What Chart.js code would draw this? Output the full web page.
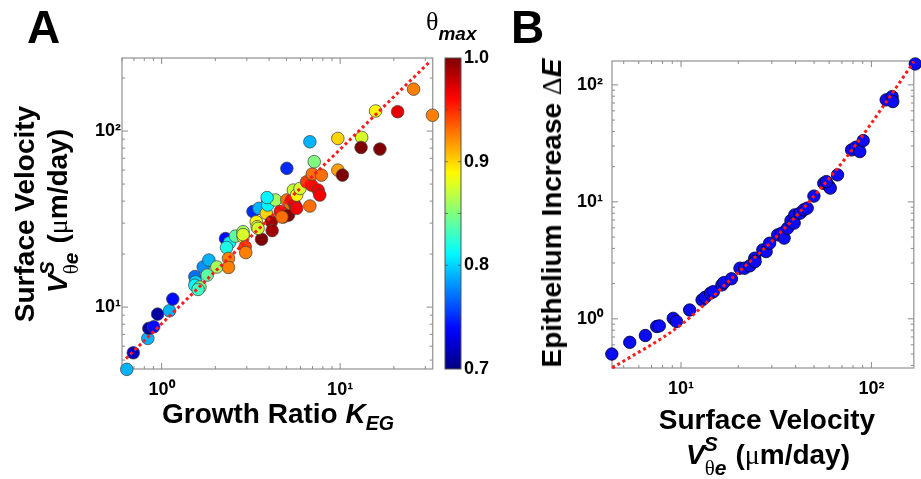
<!DOCTYPE html>
<html>
<head>
<meta charset="utf-8">
<script src="https://cdn.jsdelivr.net/npm/chart.js@4.4.1/dist/chart.umd.min.js"></script>
<style>
  html, body { margin:0; padding:0; background:#fff; }
  body { width:921px; height:479px; position:relative; overflow:hidden;
         font-family:"Liberation Sans", Arial, sans-serif; font-weight:bold; color:#000; }
  canvas { position:absolute; top:0; }
  .lbl { position:absolute; white-space:nowrap; line-height:1; font-size:28px; }
  .ctr { transform: translateX(-50%); }
  .rot { transform: translate(-50%,-50%) rotate(-90deg); }
  .sym { font-family:"Liberation Serif", "DejaVu Serif", serif; font-weight:normal; }
  .ss  { display:inline-block; position:relative; width:0.82em; height:0; }
  .ss .sp { position:absolute; left:-0.05em; bottom:0.5em; font-size:0.75em; font-style:italic; line-height:1; }
  .ss .sb { position:absolute; left:0; top:-0.32em; font-size:0.75em; line-height:1; }
  .sub { font-size:0.7em; font-style:italic; position:relative; top:0.35em; }
  .panel { position:absolute; font-size:46px; line-height:1; }
</style>
</head>
<body>
<canvas id="chartA" width="440" height="479" style="left:0"></canvas>
<canvas id="chartCb" width="80" height="479" style="left:430px"></canvas>
<canvas id="chartB" width="421" height="479" style="left:500px"></canvas>

<div class="panel" style="left:27px; top:4px;">A</div>
<div class="panel" style="left:511px; top:4px;">B</div>

<!-- panel A titles -->
<div class="lbl rot" style="left:25px; top:214px;">Surface Velocity</div>
<div class="lbl rot" style="left:58px; top:211px;"><i>V</i><span class="ss"><span class="sp">S</span><span class="sb"><span class="sym">θ</span><i>e</i></span></span> (<span class="sym">μ</span>m/day)</div>
<div class="lbl ctr" style="left:278px; top:400px;">Growth Ratio <i>K</i><span class="sub">EG</span></div>
<div class="lbl" style="left:426px; top:8px; font-size:26px;"><span class="sym">θ</span><span style="font-size:19px; font-style:italic; position:relative; top:10px;">max</span></div>

<!-- panel B titles -->
<div class="lbl rot" style="left:552px; top:213px;">Epithelium Increase <span class="sym">Δ</span><i>E</i></div>
<div class="lbl ctr" style="left:767px; top:406px;">Surface Velocity</div>
<div class="lbl ctr" style="left:768px; top:441px;"><i>V</i><span class="ss"><span class="sp">S</span><span class="sb"><span class="sym">θ</span><i>e</i></span></span> (<span class="sym">μ</span>m/day)</div>

<script>
// ----- panel A data: growth ratio, surface velocity, theta max -----
const kEG = [0.638, 0.694, 0.837, 0.848, 0.903, 0.95, 1.107, 1.155, 1.535, 1.55,
  1.535, 1.64, 1.71, 1.84, 1.80, 2.04, 2.28, 2.40, 2.31, 2.37,
  2.37, 2.59, 2.86, 2.86, 2.94, 2.96, 3.25, 3.51, 3.39, 3.43,
  3.63, 3.86, 3.93, 3.93, 4.34, 4.12, 4.16, 4.62, 4.82, 5.14,
  5.03, 5.25, 5.36, 5.58, 5.71, 5.47, 5.71, 5.96, 6.49, 6.92,
  7.53, 7.69, 6.77, 6.98, 7.85, 7.16, 6.77, 5.03, 9.71, 9.71,
  10.3, 13.2, 13.1, 16.7, 15.8, 21.0, 25.8, 32.9, 3.47, 2.86,
  3.9, 4.72, 1.6];
const vSurfA = [4.43, 5.50, 6.64, 7.57, 7.73, 9.12, 9.53, 11.1, 14.9, 13.9,
  13.3, 13.0, 16.9, 18.5, 15.2, 16.9, 24.5, 23.2, 21.8, 18.9,
  16.8, 25.3, 26.8, 25.1, 22.0, 20.4, 34.9, 36.4, 30.5, 28.6,
  24.3, 34.1, 40.2, 38.0, 40.6, 30.5, 27.2, 34.9, 32.5, 33.3,
  40.6, 38.8, 40.6, 38.0, 36.4, 46.2, 43.3, 47.2, 51.5, 49.3,
  46.2, 43.3, 37.5, 57.0, 56.2, 67.0, 86.9, 61.4, 90.8, 60.0,
  56.2, 92.0, 80.7, 79.0, 130, 128.8, 173, 123, 28.0, 25.8,
  41.9, 32.5, 12.6];
const thetaMax = [0.79, 0.72, 0.79, 0.71, 0.74, 0.71, 0.79, 0.74, 0.77, 0.80,
  0.81, 0.85, 0.78, 0.79, 0.84, 0.86, 0.74, 0.81, 0.82, 0.925,
  0.925, 0.84, 0.86, 0.89, 0.945, 0.925, 0.75, 0.79, 0.89, 0.875,
  1.00, 0.90, 0.80, 0.81, 0.86, 0.99, 0.99, 0.96, 0.93, 1.00,
  0.93, 0.93, 0.96, 0.965, 0.965, 0.87, 0.89, 0.875, 0.945, 0.96,
  0.965, 0.965, 0.93, 0.93, 0.93, 0.85, 0.79, 0.75, 0.90, 0.915,
  1.00, 0.875, 1.00, 1.00, 0.89, 0.97, 0.925, 0.925, 0.875, 0.875,
  0.81, 0.93, 0.83];
const fitA_K = [0.632, 31.8];
const fitA_V = [5.1, 248];

// ----- panel B data: surface velocity vs epithelium increase -----
const vSurfB = [4.33, 5.38, 6.50, 7.45, 7.69, 9.10, 9.46, 11.1, 12.9, 13.4,
  14.3, 14.8, 16.4, 16.8, 18.4, 20.4, 21.6, 23.0, 24.4, 24.5,
  26.9, 28.0, 29.2, 32.2, 33.8, 34.8, 36.3, 37.8, 39.6, 39.3,
  42.2, 44.2, 46.0, 49.9, 56.2, 59.7, 60.8, 58.0, 66.4, 78.7,
  82.9, 86.9, 90.6, 119.6, 128.5, 129.5, 170];
const epiIncrease = [0.50, 0.63, 0.72, 0.86, 0.87, 1.01, 0.95, 1.19, 1.45, 1.53,
  1.66, 1.71, 1.95, 2.04, 2.20, 2.71, 2.71, 2.84, 3.30, 3.09,
  3.89, 3.76, 4.43, 5.22, 5.40, 4.90, 5.96, 6.92, 7.74, 6.58,
  8.0, 8.55, 8.84, 11.2, 14.4, 13.7, 13.1, 14.9, 17.0, 27.8,
  29.3, 26.9, 33.4, 74.5, 79.4, 72.0, 151];
const fitB_V = [4.35, 10, 20, 30, 50, 80, 120, 167];
const fitB_E = [0.38, 0.89, 2.5, 4.6, 11.2, 28.5, 72, 158];

// ----- ticks -----
const aXTicks = [1, 10];
const aYTicks = [10, 100];
const bXTicks = [10, 100];
const bYTicks = [1, 10, 100];
const cbTicks = [0.7, 0.8, 0.9, 1.0];

// ----- helpers -----
const SUP = { '-1':'⁻¹', 0:'⁰', 1:'¹', 2:'²', 3:'³' };
const powLabel = v => '10' + SUP[Math.round(Math.log10(v))];
const tickFont = { family:'"Liberation Sans", Arial, sans-serif', size:18, weight:'bold' };
const clamp = v => Math.max(0, Math.min(1, v));
function jet(th) {
  const t = (th - 0.7) / 0.3;
  const r = clamp(1.5 - Math.abs(4*t - 3)), g = clamp(1.5 - Math.abs(4*t - 2)), b = clamp(1.5 - Math.abs(4*t - 1));
  return `rgb(${Math.round(r*255)},${Math.round(g*255)},${Math.round(b*255)})`;
}
const toPts = (xs, ys) => xs.map((x, i) => ({ x, y: ys[i] }));

// box + inward ticks on all four sides (MATLAB style)
const frameTicks = {
  id: 'frameTicks',
  beforeDatasetsDraw(chart) {
    const { ctx, chartArea: a, scales } = chart;
    ctx.save();
    ctx.strokeStyle = '#9a9a9a';
    ctx.lineWidth = 1.3;
    ctx.strokeRect(a.left, a.top, a.right - a.left, a.bottom - a.top);
    ctx.lineWidth = 1;
    ctx.strokeStyle = '#8a8a8a';
    const logMarks = (sc, cb) => {
      for (let k = Math.floor(Math.log10(sc.min)); k <= Math.ceil(Math.log10(sc.max)); k++) {
        for (let m = 1; m <= 9; m++) {
          const v = m * Math.pow(10, k);
          if (v < sc.min || v > sc.max) continue;
          cb(sc.getPixelForValue(v), m === 1 ? 6 : 3);
        }
      }
    };
    ctx.beginPath();
    logMarks(scales.x, (p, len) => {
      ctx.moveTo(p, a.bottom); ctx.lineTo(p, a.bottom - len);
      ctx.moveTo(p, a.top); ctx.lineTo(p, a.top + len);
    });
    logMarks(scales.y, (p, len) => {
      ctx.moveTo(a.left, p); ctx.lineTo(a.left + len, p);
      ctx.moveTo(a.right, p); ctx.lineTo(a.right - len, p);
    });
    ctx.stroke();
    ctx.restore();
  }
};

function logAxis(min, max, ticks, fitSize, pad, horizontal) {
  return {
    type: 'logarithmic', min, max,
    grid: { display: false, drawTicks: false },
    border: { display: false },
    afterBuildTicks: s => { s.ticks = ticks.map(v => ({ value: v })); },
    afterFit: s => { if (horizontal) s.height = fitSize; else s.width = fitSize; },
    ticks: { callback: v => powLabel(v), font: tickFont, color: '#000', padding: pad,
             maxRotation: 0, autoSkip: false }
  };
}

Chart.defaults.font.family = '"Liberation Sans", Arial, sans-serif';

// ————— Panel A —————
new Chart(document.getElementById('chartA'), {
  type: 'scatter',
  data: { datasets: [
    { type: 'line', data: toPts(fitA_K, fitA_V), borderColor: '#ff1a1a', borderWidth: 3,
      borderDash: [3, 3], pointRadius: 0, fill: false, order: 0, clip: false },
    { data: toPts(kEG, vSurfA), backgroundColor: thetaMax.map(jet),
      borderColor: 'rgba(70,70,70,0.75)', borderWidth: 1, pointRadius: 6.3, order: 1, clip: false }
  ]},
  options: {
    responsive: false, animation: false,
    layout: { padding: { left: 82, right: 7, top: 58, bottom: 70 } },
    plugins: { legend: { display: false }, tooltip: { enabled: false } },
    scales: {
      x: logAxis(0.632, 33, aXTicks, 40, 10, true),
      y: logAxis(4.45, 260, aYTicks, 40, 1, false)
    }
  },
  plugins: [frameTicks]
});

// ————— Colorbar —————
new Chart(document.getElementById('chartCb'), {
  type: 'scatter',
  data: { datasets: [] },
  options: {
    responsive: false, animation: false,
    layout: { padding: { left: 15, right: 13, top: 58, bottom: 110 } },
    plugins: { legend: { display: false }, tooltip: { enabled: false } },
    scales: {
      x: { type: 'linear', display: false, min: 0, max: 1 },
      y: { type: 'linear', position: 'right', min: 0.7, max: 1.0,
           grid: { display: false, drawTicks: false }, border: { display: false },
           afterBuildTicks: s => { s.ticks = cbTicks.map(v => ({ value: v })); },
           afterFit: s => { s.width = 36; },
           ticks: { callback: v => v.toFixed(1), font: tickFont, color: '#000', padding: 3 } }
    }
  },
  plugins: [{
    id: 'jetBar',
    beforeDatasetsDraw(chart) {
      const { ctx, chartArea: a, scales } = chart;
      const grad = ctx.createLinearGradient(0, a.bottom, 0, a.top);
      for (let i = 0; i <= 30; i++) grad.addColorStop(i / 30, jet(0.7 + 0.3 * i / 30));
      ctx.save();
      ctx.fillStyle = grad;
      ctx.fillRect(a.left, a.top, a.right - a.left, a.bottom - a.top);
      ctx.strokeStyle = '#555';
      ctx.lineWidth = 1;
      ctx.strokeRect(a.left, a.top, a.right - a.left, a.bottom - a.top);
      ctx.strokeStyle = 'rgba(60,60,60,0.6)';
      ctx.beginPath();
      for (let v = 0.75; v < 1.0; v += 0.05) {
        const p = scales.y.getPixelForValue(v);
        ctx.moveTo(a.left, p); ctx.lineTo(a.left + 3, p);
        ctx.moveTo(a.right, p); ctx.lineTo(a.right - 3, p);
      }
      ctx.stroke();
      ctx.restore();
    }
  }]
});

// ————— Panel B —————
new Chart(document.getElementById('chartB'), {
  type: 'scatter',
  data: { datasets: [
    { type: 'line', data: toPts(fitB_V, fitB_E), borderColor: '#ff1a1a', borderWidth: 3,
      borderDash: [3, 3], pointRadius: 0, fill: false, cubicInterpolationMode: 'monotone',
      order: 0, clip: false },
    { data: toPts(vSurfB, epiIncrease), backgroundColor: '#0c0cf2',
      borderColor: 'rgba(0,0,50,0.85)', borderWidth: 1, pointRadius: 6.2, order: 1, clip: false }
  ]},
  options: {
    responsive: false, animation: false,
    layout: { padding: { left: 72, right: 3, top: 61, bottom: 71 } },
    plugins: { legend: { display: false }, tooltip: { enabled: false } },
    scales: {
      x: logAxis(4.34, 167, bXTicks, 40, 10, true),
      y: logAxis(0.38, 160, bYTicks, 40, 9, false)
    }
  },
  plugins: [frameTicks]
});
</script>
</body>
</html>
